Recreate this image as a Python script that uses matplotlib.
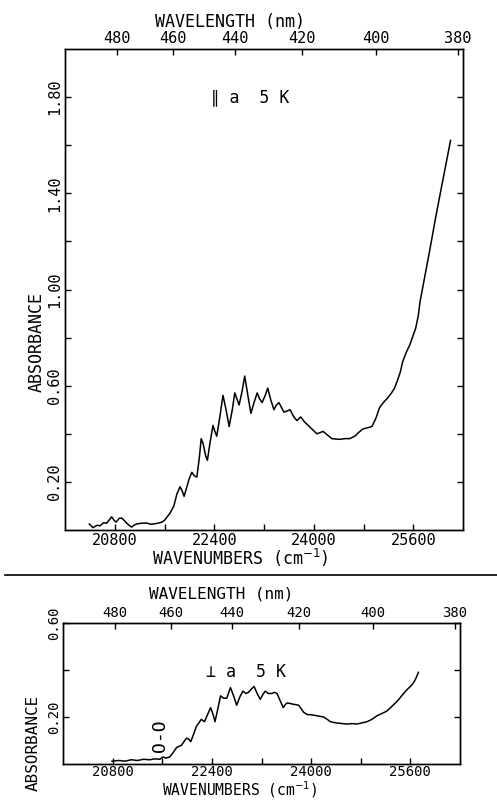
import numpy as np
import matplotlib
matplotlib.use("Agg")
import matplotlib.pyplot as plt

plt.rcParams.update({
    "font.family": ["DejaVu Sans Mono", "DejaVu Sans"],
    "font.size": 11,
    "axes.linewidth": 1.0,
})

# parallel to a, 5 K
top_wn = [20390, 20450, 20520, 20560, 20620, 20670, 20720, 20750, 20790, 20820,
          20870, 20910, 20950, 20990, 21030, 21070, 21110, 21150, 21230, 21310,
          21380, 21450, 21520, 21560, 21600, 21640, 21690, 21750, 21800, 21850,
          21880, 21915, 21960, 22000, 22040, 22080, 22120, 22160, 22190, 22220,
          22260, 22290, 22330, 22380, 22410, 22440, 22490, 22540, 22590, 22640,
          22690, 22730, 22765, 22800, 22850, 22890, 22940, 22990, 23040, 23090,
          23130, 23170, 23220, 23260, 23310, 23360, 23400, 23440, 23480, 23520,
          23570, 23620, 23680, 23730, 23790, 23850, 23910, 23970, 24050, 24100,
          24150, 24220, 24290, 24360, 24420, 24500, 24580, 24660, 24720, 24790,
          24860, 24935, 25000, 25060, 25120, 25190, 25250, 25300, 25350, 25390,
          25430, 25490, 25545, 25600, 25640, 25680, 25710, 25790, 25870, 25950,
          26020, 26080, 26140, 26200]
top_abs = [0.025, 0.010, 0.020, 0.017, 0.030, 0.028, 0.045, 0.055, 0.040, 0.033,
           0.048, 0.050, 0.040, 0.029, 0.020, 0.012, 0.020, 0.025, 0.028, 0.029,
           0.024, 0.026, 0.030, 0.033, 0.040, 0.054, 0.070, 0.100, 0.150, 0.180,
           0.165, 0.140, 0.180, 0.215, 0.240, 0.225, 0.220, 0.300, 0.380, 0.360,
           0.310, 0.290, 0.360, 0.435, 0.410, 0.390, 0.470, 0.560, 0.500, 0.430,
           0.500, 0.570, 0.545, 0.520, 0.580, 0.640, 0.560, 0.485, 0.530, 0.570,
           0.545, 0.530, 0.560, 0.590, 0.540, 0.500, 0.520, 0.530, 0.510, 0.490,
           0.495, 0.500, 0.470, 0.455, 0.470, 0.450, 0.435, 0.420, 0.400, 0.405,
           0.410, 0.395, 0.380, 0.378, 0.377, 0.380, 0.380, 0.390, 0.405, 0.420,
           0.425, 0.430, 0.465, 0.510, 0.530, 0.550, 0.570, 0.590, 0.625, 0.655,
           0.700, 0.740, 0.770, 0.810, 0.840, 0.890, 0.950, 1.060, 1.170, 1.285,
           1.380, 1.460, 1.540, 1.620]

# perpendicular to a, 5 K
bot_wn = [20790, 20900, 21000, 21100, 21200, 21300, 21400, 21480, 21560, 21610,
          21660, 21720, 21780, 21830, 21870, 21910, 21950, 21990, 22030, 22060,
          22110, 22150, 22190, 22230, 22280, 22330, 22380, 22420, 22450, 22500,
          22540, 22590, 22640, 22700, 22750, 22800, 22850, 22900, 22950, 22990,
          23040, 23080, 23130, 23180, 23220, 23260, 23310, 23360, 23410, 23450,
          23500, 23550, 23590, 23620, 23700, 23800, 23840, 23880, 23940, 23990,
          24100, 24200, 24260, 24310, 24400, 24500, 24580, 24660, 24740, 24820,
          24900, 24980, 25060, 25140, 25220, 25300, 25380, 25460, 25540, 25600,
          25650, 25690, 25730]
bot_abs = [0.012, 0.015, 0.012, 0.018, 0.015, 0.020, 0.018, 0.022, 0.020, 0.030,
           0.025, 0.030, 0.050, 0.070, 0.075, 0.080, 0.095, 0.110, 0.105, 0.095,
           0.130, 0.160, 0.175, 0.190, 0.180, 0.210, 0.240, 0.210, 0.180, 0.240,
           0.290, 0.280, 0.280, 0.325, 0.290, 0.250, 0.285, 0.310, 0.300, 0.305,
           0.320, 0.330, 0.300, 0.275, 0.295, 0.310, 0.300, 0.300, 0.305, 0.300,
           0.270, 0.240, 0.255, 0.260, 0.255, 0.250, 0.235, 0.220, 0.210, 0.210,
           0.205, 0.200, 0.190, 0.180, 0.175, 0.172, 0.170, 0.172, 0.170, 0.175,
           0.180, 0.190, 0.205, 0.215, 0.225, 0.245, 0.265, 0.290, 0.315, 0.330,
           0.345, 0.365, 0.390]

wn_major = [20800, 22400, 24000, 25600]
wn_minor = [21600, 23200, 24800]
wl_ticks = [480, 460, 440, 420, 400, 380]
xlim = (20000, 26400)


def style_panel(ax, ymax, ymajor, yminor, fs, pad):
    ax.set_xlim(*xlim)
    ax.set_ylim(0, ymax)
    ax.set_xticks(wn_major)
    ax.set_xticks(wn_minor, minor=True)
    ax.set_xticklabels([str(v) for v in wn_major])
    ax.set_yticks(ymajor)
    ax.set_yticks(yminor, minor=True)
    ax.set_yticklabels(["%.2f" % v for v in ymajor], rotation=90, va="center")
    ax.tick_params(which="both", direction="in", length=4, width=1,
                   top=False, right=True, labelsize=fs, pad=pad)
    top = ax.twiny()
    top.set_xlim(*xlim)
    top.set_xticks([1e7 / w for w in wl_ticks])
    top.set_xticklabels([str(w) for w in wl_ticks])
    top.tick_params(direction="in", length=4, width=1, labelsize=fs, pad=2)
    return top


fig = plt.figure(figsize=(4.97, 8.0), dpi=100)

ax1 = fig.add_axes([65 / 497, 1 - 530 / 800, 398 / 497, 481 / 800])
ax1.plot(top_wn, top_abs, color="black", lw=1.1)
style_panel(ax1, 2.0, [0.2, 0.6, 1.0, 1.4, 1.8], [0.4, 0.8, 1.2, 1.6], 11, 2)
ax1.text(22980, 1.80, "\u2225 a  5 K", ha="center", va="center", fontsize=12)

ax2 = fig.add_axes([63 / 497, 1 - 764 / 800, 397 / 497, 141 / 800])
ax2.plot(bot_wn, bot_abs, color="black", lw=1.1)
style_panel(ax2, 0.6, [0.2, 0.6], [0.4], 10, 1)
ax2.text(22950, 0.39, "\u22a5 a  5 K", ha="center", va="center", fontsize=12)
ax2.text(21560, 0.12, "O-O", rotation=90, ha="center", va="center", fontsize=13)

# axis titles placed like the original
fig.text(230 / 497, 1 - 22 / 800, "WAVELENGTH (nm)", ha="center", va="center", fontsize=12)
fig.text(240 / 497, 1 - 558 / 800, r"WAVENUMBERS (cm$^{-1}$)", ha="center", va="center", fontsize=12)
fig.text(37 / 497, 1 - 342 / 800, "ABSORBANCE", rotation=90, ha="center", va="center", fontsize=12)

fig.text(221 / 497, 1 - 594 / 800, "WAVELENGTH (nm)", ha="center", va="center", fontsize=11.5)
fig.text(240 / 497, 0.0, r"WAVENUMBERS (cm$^{-1}$)", ha="center", va="bottom", fontsize=10.5)
fig.text(33 / 497, 1 - 743 / 800, "ABSORBANCE", rotation=90, ha="center", va="center", fontsize=11.5)

# separator between the two spectra
fig.add_artist(plt.Line2D([0.01, 1.0], [1 - 575 / 800, 1 - 575 / 800],
                          transform=fig.transFigure, color="black", lw=1.2))

fig.savefig("out.png", dpi=100)
